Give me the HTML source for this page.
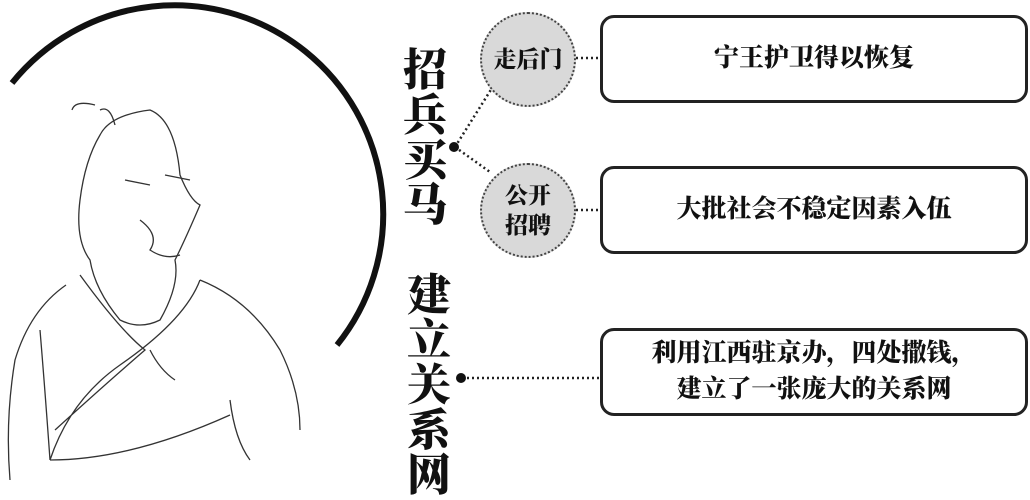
<!DOCTYPE html>
<html><head><meta charset="utf-8"><style>
body{margin:0;width:1030px;height:497px;background:#fff;overflow:hidden;position:relative;font-family:"Liberation Serif","Noto Serif CJK SC",serif;}
.v{position:absolute;font-weight:900;color:#111;font-size:44px;line-height:45px;width:50px;text-align:center;}
.box{position:absolute;border:3px solid #222;border-radius:14px;box-sizing:border-box;display:flex;align-items:center;justify-content:center;text-align:center;font-weight:900;font-size:25px;line-height:36px;color:#111;}
.el{position:absolute;border:2px dotted #444;border-radius:50%;background:#d9d9d9;box-sizing:border-box;display:flex;align-items:center;justify-content:center;text-align:center;font-weight:900;font-size:23px;line-height:30px;color:#111;}
svg{position:absolute;left:0;top:0}
</style></head><body>
<svg width="1030" height="497">
<path d="M12 83 A205 205 0 1 1 337 345" fill="none" stroke="#111" stroke-width="6"/>
<g fill="none" stroke="#333" stroke-width="1.3">
<path d="M100 135 Q110 115 150 110 Q175 120 180 175 Q190 200 200 205 Q185 240 175 260 Q180 285 160 320 Q140 330 120 320 Q95 290 90 260 Q75 240 80 200 Q85 160 100 135Z"/>
<path d="M100 110 Q110 105 115 125 M95 105 Q75 100 72 110"/>
<path d="M125 180 L150 185 M165 175 L190 180 M140 220 Q160 235 150 250 Q165 260 180 255"/>
<path d="M66 285 Q30 310 15 360 Q5 420 10 480 M80 275 Q120 330 145 350 Q110 380 55 430 M200 280 Q185 320 120 365 Q70 400 50 460 M200 280 Q250 300 280 350 Q300 390 300 430 M150 350 Q160 370 175 380 M50 460 Q130 460 230 415 M230 400 Q235 440 250 460 M40 330 Q45 390 50 460"/>
</g>
<g stroke="#222" stroke-width="2.5" stroke-dasharray="2 3" fill="none">
<line x1="455" y1="147" x2="492" y2="88"/>
<line x1="455" y1="147" x2="490" y2="172"/>
<line x1="576" y1="58" x2="600" y2="58"/>
<line x1="576" y1="210" x2="600" y2="210"/>
<line x1="462" y1="378" x2="600" y2="378"/>
</g>
<circle cx="454" cy="147" r="5" fill="#111"/>
<circle cx="461" cy="378" r="5" fill="#111"/>
</svg>
<div class="v" style="left:400px;top:48px">招<br>兵<br>买<br>马</div>
<div class="v" style="left:404px;top:273px">建<br>立<br>关<br>系<br>网</div>
<div class="el" style="left:480px;top:12px;width:96px;height:95px">走后门</div>
<div class="el" style="left:480px;top:163px;width:96px;height:95px">公开<br>招聘</div>
<div class="box" style="left:600px;top:15px;width:428px;height:88px">宁王护卫得以恢复</div>
<div class="box" style="left:600px;top:166px;width:428px;height:88px">大批社会不稳定因素入伍</div>
<div class="box" style="left:600px;top:328px;width:428px;height:88px">利用江西驻京办，四处撒钱，<br>建立了一张庞大的关系网</div>
</body></html>
